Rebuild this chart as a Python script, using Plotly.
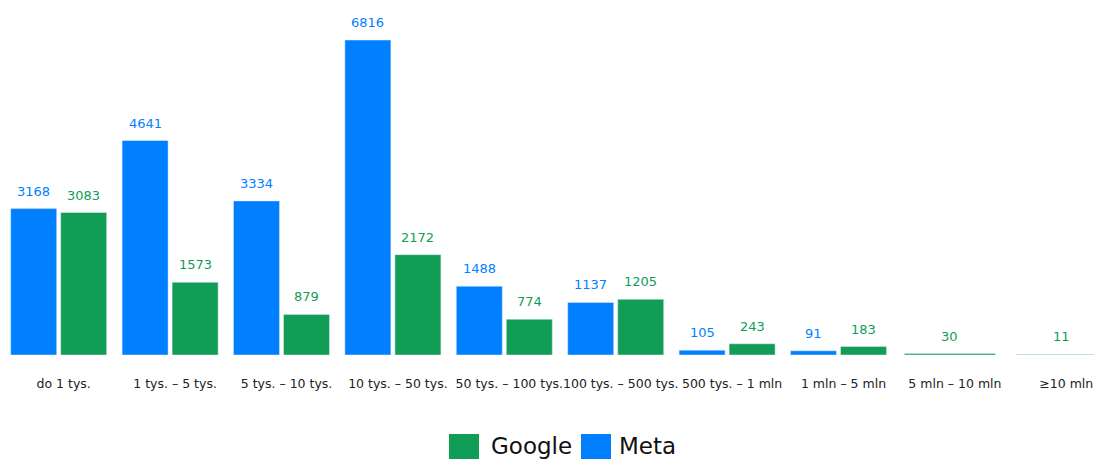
import plotly.graph_objects as go

categories = ["do 1 tys.", "1 tys. – 5 tys.", "5 tys. – 10 tys.", "10 tys. – 50 tys.",
              "50 tys. – 100 tys.", "100 tys. – 500 tys.", "500 tys. – 1 mln",
              "1 mln – 5 mln", "5 mln – 10 mln", "≥10 mln"]
meta_values = [3168, 4641, 3334, 6816, 1488, 1137, 105, 91, None, None]
google_values = [3083, 1573, 879, 2172, 774, 1205, 243, 183, 30, 11]

META_COLOR = "#007fff"
GOOGLE_COLOR = "#119d56"
FONT = "DejaVu Sans"

half = 0.431
bw = 0.413
gap = 0.036
single_w = 0.817

idx = list(range(len(categories)))

meta_x, meta_y = [], []
for i, v in zip(idx, meta_values):
    if v is not None:
        meta_x.append(i)
        meta_y.append(v)

g_off, g_w, g_center = [], [], []
for i, mv in enumerate(meta_values):
    if mv is None:
        g_off.append(-single_w / 2)
        g_w.append(single_w)
        g_center.append(0.0)
    else:
        g_off.append(-half + bw + gap)
        g_w.append(bw)
        g_center.append(-half + bw + gap + bw / 2)

fig = go.Figure()
fig.add_trace(go.Bar(x=meta_x, y=meta_y, name="Meta", marker_color=META_COLOR,
                     offset=-half, width=bw, showlegend=False, hoverinfo="y"))
fig.add_trace(go.Bar(x=idx, y=google_values, name="Google", marker_color=GOOGLE_COLOR,
                     offset=g_off, width=g_w, showlegend=False, hoverinfo="y"))

annotations = []
for i, v in zip(meta_x, meta_y):
    annotations.append(dict(x=i - half + bw / 2, y=v, xref="x", yref="y", text=str(v),
                            showarrow=False, yanchor="bottom", yshift=8,
                            font=dict(family=FONT, size=13, color=META_COLOR)))
for i, v in enumerate(google_values):
    annotations.append(dict(x=i + g_center[i], y=v, xref="x", yref="y", text=str(v),
                            showarrow=False, yanchor="bottom", yshift=8,
                            font=dict(family=FONT, size=13, color=GOOGLE_COLOR)))

# custom legend (Google, Meta)
W_PLOT = 1091.0
H_PLOT = 355.0
def px_x(p):
    return (p - 3) / W_PLOT
def px_y(p):
    return (H_PLOT - p) / H_PLOT

shapes = []
legend_items = [("Google", GOOGLE_COLOR, 449, 489), ("Meta", META_COLOR, 581, 617)]
for name, col, sx, tx in legend_items:
    shapes.append(dict(type="rect", xref="paper", yref="paper",
                       x0=px_x(sx), x1=px_x(sx + 30), y0=px_y(459), y1=px_y(434),
                       fillcolor=col, line=dict(width=0)))
    annotations.append(dict(x=px_x(tx), y=px_y(446.5), xref="paper", yref="paper",
                            text=name, showarrow=False, xanchor="left", yanchor="middle",
                            font=dict(family=FONT, size=23, color="#111111")))

fig.update_layout(
    width=1094, height=459,
    margin=dict(l=3, r=0, t=0, b=104, autoexpand=False),
    paper_bgcolor="white", plot_bgcolor="white",
    barmode="overlay",
    showlegend=False,
    annotations=annotations,
    shapes=shapes,
    font=dict(family=FONT),
)
fig.update_xaxes(
    tickmode="array", tickvals=idx, ticktext=categories,
    range=[-0.5, -0.5 + W_PLOT / 111.4],
    showgrid=False, zeroline=False, showline=False, ticks="",
    tickangle=0,
    tickfont=dict(family=FONT, size=12.5, color="#222222"),
    ticklabelstandoff=19, ticklabelshift=5,
)
fig.update_yaxes(range=[0, 7682], visible=False, showgrid=False, zeroline=False)

fig.write_html("out.html")
